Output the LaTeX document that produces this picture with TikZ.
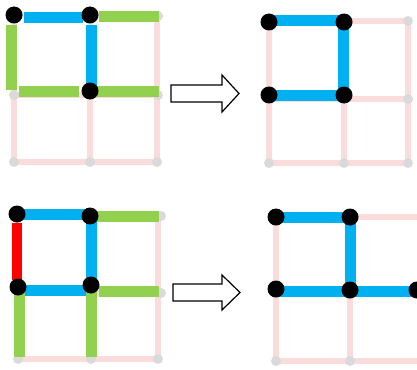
\documentclass[tikz,border=0pt]{standalone}
\definecolor{barblue}{RGB}{0,176,240}
\definecolor{bargreen}{RGB}{146,208,80}
\definecolor{barred}{RGB}{255,0,0}
\definecolor{gridpink}{RGB}{250,220,220}
\definecolor{dotgray}{RGB}{218,218,218}
\tikzset{
  grid/.style={draw=gridpink,line width=6pt},
  gdot/.style={circle,fill=dotgray,inner sep=0pt,minimum size=10pt},
  bdot/.style={circle,fill=black,inner sep=0pt,minimum size=17pt},
  bar/.style={line width=11pt},
  hollow/.style={draw=black,fill=white,line width=1.2pt,line join=miter},
}
\begin{document}
\begin{tikzpicture}[x=1pt,y=-1pt]
\useasboundingbox (0,0) rectangle (417,369);
% ---------- top left ----------
\draw[grid] (14,15) rectangle (157,162) (14,95)--(157,95) (90,15)--(90,162);
\foreach \p/\n in {{14,162}/a1,{90,162}/a2,{157,162}/a3,{158,16}/a4,{158,95}/a5,{14,95}/a6}
  \node[gdot] (tl\n) at (\p) {};
\draw[bar,barblue] (24,17.5)--(83,17.5);
\draw[bar,barblue] (91,25)--(91,91);
\draw[bar,bargreen] (99,17)--(159,17);
\draw[bar,bargreen] (11,25)--(11,90);
\draw[bar,bargreen] (19,91.5)--(79,91.5);
\draw[bar,bargreen] (97,91)--(159,91);
\node[bdot] (tlA) at (14,15) {};
\node[bdot] (tlB) at (90,15) {};
\node[bdot] (tlC) at (90,91) {};
% arrow top
\draw[hollow] (171,85)--(222,85)--(222,75)--(239,93.5)--(222,112)--(222,102)--(171,102)--cycle;
% ---------- top right ----------
\draw[grid] (269,21) rectangle (408,163) (269,99)--(408,99) (344,21)--(344,163);
\foreach \p/\n in {{408,21}/a1,{408,99}/a2,{269,163}/a3,{344,163}/a4,{408,163}/a5}
  \node[gdot] (tr\n) at (\p) {};
\draw[bar,barblue] (269,20.5)--(343,20.5);
\draw[bar,barblue] (343,20.5)--(343,95);
\draw[bar,barblue] (269,95)--(343,95);
\node[bdot] (trA) at (269,22) {};
\node[bdot] (trB) at (344,22) {};
\node[bdot] (trC) at (269,95) {};
\node[bdot] (trD) at (344,95) {};
% ---------- bottom left ----------
\draw[grid] (18,216) rectangle (158,359) (18,293)--(158,293) (91,216)--(91,359);
\foreach \p/\n in {{161,216}/a1,{161,293}/a2,{18,359}/a3,{91,359}/a4,{158,359}/a5}
  \node[gdot] (bl\n) at (\p) {};
\draw[bar,barred,line width=10pt] (17,223)--(17,280);
\draw[bar,barblue] (17,214)--(90,214);
\draw[bar,barblue] (91,216)--(91,285);
\draw[bar,barblue] (18,290)--(91,290);
\draw[bar,bargreen] (97,216)--(159,216);
\draw[bar,bargreen] (99,291.5)--(159,291.5);
\draw[bar,bargreen] (19,290)--(19,357);
\draw[bar,bargreen] (91,290)--(91,357);
\node[bdot] (blA) at (17,214) {};
\node[bdot] (blB) at (90,216) {};
\node[bdot] (blC) at (18,287) {};
\node[bdot] (blD) at (91,285) {};
% arrow bottom
\draw[hollow] (173,284)--(222,284)--(222,275)--(240,292.5)--(222,310)--(222,301)--(173,301)--cycle;
% ---------- bottom right ----------
\draw[grid] (276,217)--(430,217) (276,217)--(276,361)--(430,361) (276,291)--(430,291) (350,217)--(350,361);
\foreach \p/\n in {{276,361}/a1,{350,361}/a2}
  \node[gdot] (br\n) at (\p) {};
\draw[bar,barblue] (276,217.5)--(350,217.5);
\draw[bar,barblue] (350,217.5)--(350,290);
\draw[bar,barblue] (276,291)--(417,291);
\node[bdot] (brA) at (276,217) {};
\node[bdot] (brB) at (350,217) {};
\node[bdot] (brC) at (276,289) {};
\node[bdot] (brD) at (350,290) {};
\node[bdot] (brE) at (417,290) {};
\end{tikzpicture}
\end{document}
